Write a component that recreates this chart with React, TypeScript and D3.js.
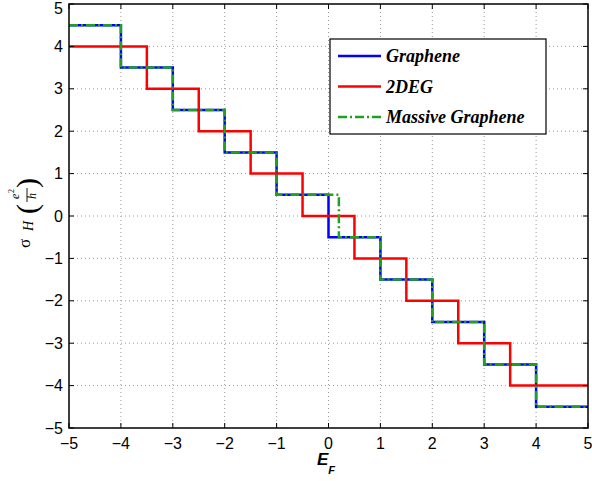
import React from 'react'
import * as d3 from 'd3'

// step series: value held from x[i] until x[i+1]
const grapheneX = [-5, -4, -3, -2, -1, 0, 1, 2, 3, 4, 5]
const grapheneY = [4.5, 3.5, 2.5, 1.5, 0.5, -0.5, -1.5, -2.5, -3.5, -4.5, -4.5]
const twoDegX = [-5, -3.5, -2.5, -1.5, -0.5, 0.5, 1.5, 2.5, 3.5, 5]
const twoDegY = [4, 3, 2, 1, 0, -1, -2, -3, -4, -4]
const massiveX = [-5, -4, -3, -2, -1, 0.2, 1, 2, 3, 4, 5]
const massiveY = [4.5, 3.5, 2.5, 1.5, 0.5, -0.5, -1.5, -2.5, -3.5, -4.5, -4.5]

const xTicks = [-5, -4, -3, -2, -1, 0, 1, 2, 3, 4, 5]
const yTicks = [-5, -4, -3, -2, -1, 0, 1, 2, 3, 4, 5]

const series = [
  { name: 'Graphene', xs: grapheneX, ys: grapheneY, color: '#0000ff', dash: null, width: 2.5 },
  { name: '2DEG', xs: twoDegX, ys: twoDegY, color: '#ff0000', dash: null, width: 2.5 },
  { name: 'Massive Graphene', xs: massiveX, ys: massiveY, color: '#22a022', dash: '9,3,2,3', width: 2.5 }
]

const fmt = (v: number) => (v < 0 ? '\u2212' + Math.abs(v) : String(v))

export default function App () {
  const width = 592
  const height = 481
  const left = 69
  const right = 588
  const top = 4
  const bottom = 428

  const xScale = d3.scaleLinear().domain([-5, 5]).range([left, right])
  const yScale = d3.scaleLinear().domain([-5, 5]).range([bottom, top])

  const line = d3.line<[number, number]>()
    .x(d => xScale(d[0]))
    .y(d => yScale(d[1]))
    .curve(d3.curveStepAfter)

  const tickFont = { fontFamily: 'Liberation Sans, Arial, sans-serif', fontSize: 16 }

  return (
    <svg width={width} height={height} style={{ position: 'absolute', left: 0, top: 0, background: '#fff' }}>
      <rect x={0} y={0} width={width} height={height} fill='#fff' />
      {/* grid */}
      <g stroke='#9a9a9a' strokeWidth={1} strokeDasharray='1,3'>
        {xTicks.slice(1, -1).map((v, i) => (
          <line key={'gx' + i} x1={xScale(v)} x2={xScale(v)} y1={top} y2={bottom} />
        ))}
        {yTicks.slice(1, -1).map((v, i) => (
          <line key={'gy' + i} x1={left} x2={right} y1={yScale(v)} y2={yScale(v)} />
        ))}
      </g>
      {/* series */}
      <g fill='none'>
        {series.map(s => (
          <path
            key={s.name}
            d={line(s.xs.map((x, i) => [x, s.ys[i]] as [number, number])) || ''}
            stroke={s.color}
            strokeWidth={s.width}
            strokeDasharray={s.dash || undefined}
          />
        ))}
      </g>
      {/* box + ticks */}
      <rect x={left} y={top} width={right - left} height={bottom - top} fill='none' stroke='#000' strokeWidth={1.5} />
      <g stroke='#000' strokeWidth={1}>
        {xTicks.map((v, i) => (
          <g key={'tx' + i}>
            <line x1={xScale(v)} x2={xScale(v)} y1={bottom} y2={bottom - 5} />
            <line x1={xScale(v)} x2={xScale(v)} y1={top} y2={top + 5} />
          </g>
        ))}
        {yTicks.map((v, i) => (
          <g key={'ty' + i}>
            <line x1={left} x2={left + 5} y1={yScale(v)} y2={yScale(v)} />
            <line x1={right} x2={right - 5} y1={yScale(v)} y2={yScale(v)} />
          </g>
        ))}
      </g>
      <g style={tickFont} fill='#000'>
        {xTicks.map((v, i) => (
          <text key={'lx' + i} x={xScale(v)} y={bottom + 21} textAnchor='middle'>{fmt(v)}</text>
        ))}
        {yTicks.map((v, i) => (
          <text key={'ly' + i} x={left - 6} y={Math.max(yScale(v) + 5.6, 14)} textAnchor='end'>{fmt(v)}</text>
        ))}
      </g>
      {/* x label */}
      <text x={317} y={465} fontFamily='Liberation Sans, Arial, sans-serif' fontWeight='bold' fontStyle='italic' fontSize={17}>
        E
        <tspan fontSize={11} dy={9}>F</tspan>
      </text>
      {/* y label */}
      <g transform='translate(30,248) rotate(-90)' fontFamily='Liberation Serif, Times New Roman, serif' fill='#000'>
        <text x={0} y={0} fontSize={17}>σ</text>
        <text x={17} y={3} fontSize={14} fontStyle='italic'>H</text>
        <text x={34} y={7} fontSize={30}>(</text>
        <text x={49} y={-11} fontSize={12} fontStyle='italic'>e</text>
        <text x={55} y={-16} fontSize={8}>2</text>
        <line x1={46} x2={60} y1={-3} y2={-3} stroke='#000' strokeWidth={0.9} />
        <text x={49} y={6} fontSize={12} fontStyle='italic'>h</text>
        <text x={60} y={7} fontSize={30}>)</text>
      </g>
      {/* legend */}
      <g>
        <rect x={330} y={39} width={216} height={95} fill='#fff' stroke='#000' strokeWidth={1.2} />
        {series.map((s, i) => {
          const ly = 56 + i * 30.5
          return (
            <g key={'leg' + i}>
              <line x1={338} x2={381} y1={ly} y2={ly} stroke={s.color} strokeWidth={s.width} strokeDasharray={s.dash || undefined} />
              <text x={386} y={ly + 6} fontFamily='Liberation Serif, Times New Roman, serif' fontWeight='bold' fontStyle='italic' fontSize={18}>{s.name}</text>
            </g>
          )
        })}
      </g>
    </svg>
  )
}
